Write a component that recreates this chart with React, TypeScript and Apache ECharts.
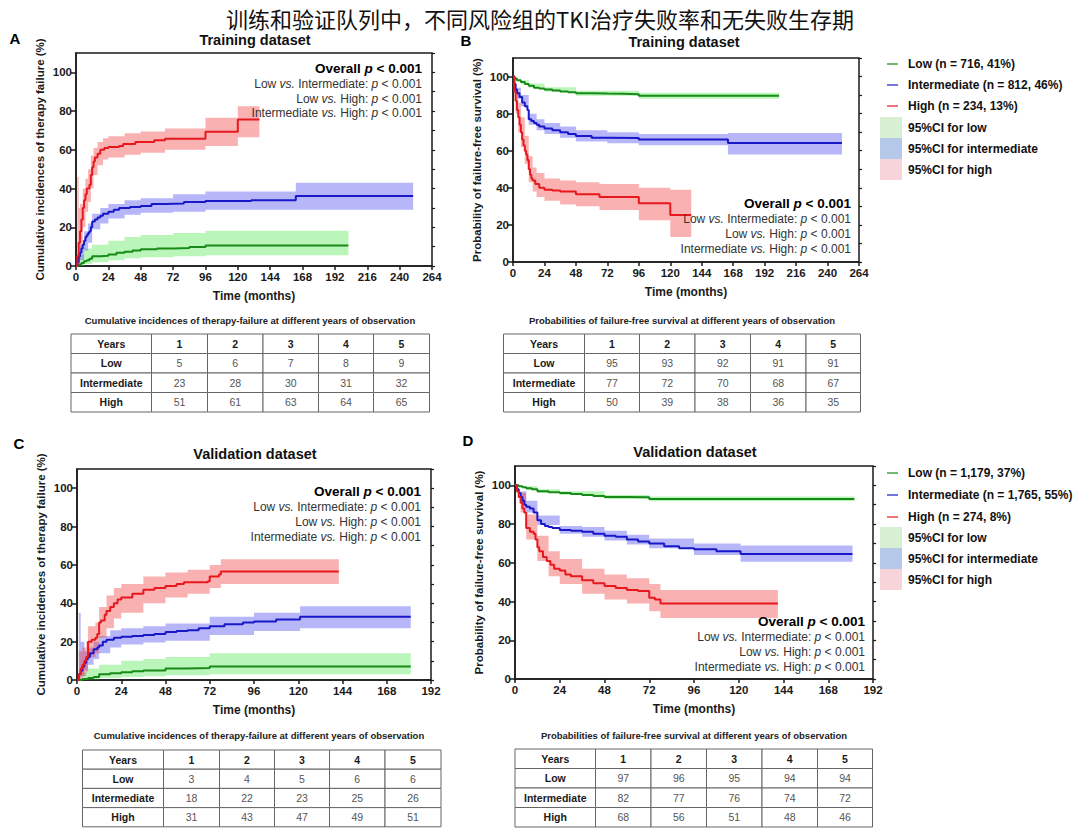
import React, { useEffect, useRef } from 'react';
import * as echarts from 'echarts';

const FONT = 'Arial, "Liberation Sans", Helvetica, sans-serif';
const MAIN_TITLE = '训练和验证队列中，不同风险组的TKI治疗失败率和无失败生存期';

// ---------- axis ticks ----------
const X_MAX_TRAIN = 264;
const X_MAX_VALID = 192;
const X_STEP = 24;
const Y_MAX = 110;
const Y_STEP = 20;
const Y_MINOR = 10;

// ---------- groups / table headers ----------
const GROUPS = ['Low', 'Intermediate', 'High'];
const YEARS = ['1', '2', '3', '4', '5'];

// ---------- tables ----------
const TAB_A_LOW = [5, 6, 7, 8, 9];
const TAB_A_INT = [23, 28, 30, 31, 32];
const TAB_A_HIGH = [51, 61, 63, 64, 65];
const TAB_B_LOW = [95, 93, 92, 91, 91];
const TAB_B_INT = [77, 72, 70, 68, 67];
const TAB_B_HIGH = [50, 39, 38, 36, 35];
const TAB_C_LOW = [3, 4, 5, 6, 6];
const TAB_C_INT = [18, 22, 23, 25, 26];
const TAB_C_HIGH = [31, 43, 47, 49, 51];
const TAB_D_LOW = [97, 96, 95, 94, 94];
const TAB_D_INT = [82, 77, 76, 74, 72];
const TAB_D_HIGH = [68, 56, 51, 48, 46];

// ---------- legends ----------
const LEGEND_B = ['Low (n = 716, 41%)', 'Intermediate (n = 812, 46%)', 'High (n = 234, 13%)'];
const LEGEND_D = ['Low (n = 1,179, 37%)', 'Intermediate (n = 1,765, 55%)', 'High (n = 274, 8%)'];
const LEGEND_CI = ['95%CI for low', '95%CI for intermediate', '95%CI for high'];

// ---------- curves: [months, %] ----------
const A_HIGH = [[0,0],[1,5],[2,12],[3,18],[4,24],[5,30],[6,34],[7,37],[8,40],[10,42],[11,47],[12,51],[13,54],[14,56],[16,58],[18,60],[21,61],[24,61.5],[32,62],[35,63],[44,64],[58,65],[66,65.7],[96,69.3],[120,75.7],[136,75.7]];
const A_INT = [[0,0],[1,2],[2,5],[3,7],[4,9],[5,11],[6,13],[7,15],[8,16],[9,17],[10,18],[11,20],[12,23],[14,24],[16,25],[18,26],[20,27],[24,28],[28,29],[32,30],[40,30.5],[48,31],[56,32],[66,32.3],[80,33],[96,33.6],[130,34],[163,36.2],[250,36.2]];
const A_LOW = [[0,0],[2,0.8],[4,1.5],[6,2.5],[8,3],[10,3.8],[12,5],[18,5.3],[24,6],[30,6.8],[36,7.3],[42,8],[48,8.6],[60,9],[72,9.3],[84,9.8],[96,10.6],[202,10.6]];
const B_LOW = [[0,100],[1,99],[3,98],[6,97],[9,96],[12,95],[16,94],[20,93.5],[24,93],[30,92.5],[36,92],[42,91.5],[48,91],[60,90.8],[72,90.7],[84,90.5],[96,89.6],[203,89.6]];
const B_INT = [[0,100],[1,96],[2,93],[3,91],[5,89],[7,86],[9,84],[11,82],[12,77],[14,76],[16,75],[18,74],[20,73],[24,72],[30,71],[36,70],[42,69],[48,68],[60,67],[72,66.8],[96,66],[164,64.2],[251,64.2]];
const B_HIGH = [[0,100],[1,92],[2,87],[3,82],[4,78],[5,74],[6,70],[7,66],[8,63],[9,60],[10,58],[11,55],[12,50],[13,47],[14,45],[15,44],[17,42],[20,40],[24,39],[30,38.5],[36,38],[48,36.5],[66,35],[96,31.7],[120,25.4],[136,25.4]];
const C_HIGH = [[0,0],[1,3],[2,6],[3,8],[4,10],[5,12],[6,20],[8,21],[10,22],[11,24],[12,30],[13,31],[15,34],[16,36],[18,38],[20,40],[22,42],[24,43],[30,45],[36,47],[42,48],[48,49],[54,50],[58,51],[71,51.5],[72,54],[77,55],[78,56.5],[142,56.5]];
const C_INT = [[0,0],[1,3],[2,5],[3,7],[4,9],[5,11],[6,12],[7,14],[9,16],[11,17],[12,18],[14,20],[16,21],[20,22],[24,22.5],[30,23],[36,23.5],[42,24],[48,25],[54,25.5],[60,26],[66,27],[72,28],[80,29],[90,30],[96,30.5],[108,31.5],[121,33],[181,33]];
const C_LOW = [[0,0],[3,0.5],[6,1],[9,1.5],[12,3],[18,3.5],[24,4],[30,4.5],[36,5],[48,6],[60,6.3],[72,7],[181,7]];
const D_LOW = [[0,100],[2,99.5],[4,99],[6,98.5],[9,98],[12,97],[18,96.5],[24,96],[30,95.5],[36,95],[42,94.5],[48,94],[60,93.8],[72,93],[182,93]];
const D_INT = [[0,100],[1,98],[2,96],[3,94],[4,92],[5,90],[6,89],[8,88],[10,86],[12,82],[14,80],[16,79],[18,78.5],[20,78],[24,77],[30,76.5],[36,76],[42,75],[48,74],[54,73.5],[60,72],[66,71],[72,70],[80,68.5],[88,67.5],[96,67],[108,66],[121,64.6],[181,64.6]];
const D_HIGH = [[0,100],[1,97],[2,94],[3,91],[4,88],[5,86],[6,78],[8,76],[10,75],[11,72],[12,68],[13,66],[15,63],[17,61],[19,59],[21,57],[24,56],[27,54],[30,53],[36,51],[42,49.5],[48,48],[54,47],[60,46],[66,45.5],[72,42],[75,41],[78,39],[141,39]];

// ---------- 95% CI bands: [months, lower, upper] ----------
const A_HIGH_CI = [[0,0,0],[1,0,46],[2,3,30],[3,8,32],[5,20,40],[7,28,45],[9,33,50],[11,40,57],[13,47,61],[16,52,64],[20,55,66],[24,56,67],[36,57.5,68.5],[48,58.5,69.5],[66,60,71],[96,62,76.5],[120,66.5,82.5],[136,66.5,82.5]];
const A_INT_CI = [[0,0,0],[1,0,6],[3,3,11],[6,8,18],[9,12,22],[12,19,27],[18,22,30],[24,24.5,32],[36,26.5,34],[48,27.5,35],[72,28,37],[96,29,38.5],[163,29,43],[250,29,43]];
const A_LOW_CI = [[0,0,0],[3,0,6],[6,1,9],[12,2,11],[24,3,13],[36,4,15],[48,4.5,16],[72,5,17],[96,5.5,18.2],[202,5.5,18.2]];
const B_LOW_CI = [[0,100,100],[6,96,98],[12,94,96.2],[24,91.8,94.2],[48,89.6,92.4],[96,88,91.2],[203,88,91.2]];
const B_INT_CI = [[0,100,100],[3,88,94],[6,84,90],[12,74,80],[18,71,77],[24,69,75],[36,67,73],[48,65,71],[72,64,70],[96,63,69],[164,58,69.5],[251,58,69.5]];
const B_HIGH_CI = [[0,100,100],[2,80,93],[4,70,86],[6,62,78],[9,53,68],[12,43,57],[15,38,51],[18,35,48],[24,33,45],[36,31,44],[48,30,43],[66,28,42],[96,22.5,40],[120,13.5,39],[136,13.5,39]];
const C_HIGH_CI = [[0,0,0],[1,0,15],[3,2,17],[5,4,20],[6,12,28],[10,14,30],[12,22,38],[16,27,44],[20,32,48],[24,35,50],[36,40,54],[48,43,56],[60,45,57.5],[72,48,60],[78,50,63],[142,49.5,63]];
const C_INT_CI = [[0,0,0],[1,0,35],[2,2,20],[4,5,15],[6,8,17],[9,11,20],[12,14,23],[18,17,26],[24,18.5,27],[36,19.5,28],[48,20.5,29.5],[72,23.5,33],[96,25.5,35],[121,27,38.5],[181,27,38.5]];
const C_LOW_CI = [[0,0,0],[3,0,4],[6,0.3,6],[12,1,8],[24,1.5,10],[36,2,11],[48,2.5,12],[72,3,14],[181,3,14]];
const D_LOW_CI = [[0,100,100],[6,97.5,99.5],[12,96,98],[24,95,97],[48,93,95],[72,91.8,94.3],[182,91.5,94.5]];
const D_INT_CI = [[0,100,100],[3,91,97],[6,86,92],[12,79.5,84.5],[24,75,79],[36,73.5,78.5],[48,71.5,76.5],[60,69.5,74.5],[72,67.5,72.5],[96,64,70],[121,60.5,69],[181,60.5,69]];
const D_HIGH_CI = [[0,100,100],[3,86,96],[6,72,85],[12,61,74],[18,53,66],[24,49,62],[36,44,57],[48,41,54],[60,39,52],[72,35,49],[78,31.5,46],[141,31.5,46]];

// ---------- styles ----------
const LINE_COLORS = ['#178a17', '#1818c8', '#e8191e'];
const BAND_COLORS = ['rgba(90,230,90,0.42)', 'rgba(80,80,240,0.42)', 'rgba(240,60,60,0.40)'];
const LEGEND_BAND_COLORS = ['#d9efd4', '#b5c8ea', '#f7d4d9'];

const Y_NAME_CI = 'Cumulative incidences of therapy failure (%)';
const Y_NAME_S = 'Probability of failure-free survival (%)';
const TABLE_TITLE_CI = 'Cumulative incidences of therapy-failure at different years of observation';
const TABLE_TITLE_S = 'Probabilities of failure-free survival at different years of observation';
const COMPARISONS = [['Low', 'Intermediate'], ['Low', 'High'], ['Intermediate', 'High']];

const panels = [
  { letter: 'A', lx: 15, ly: 38, grid: { left: 76, top: 53, width: 356, height: 213 }, xMax: X_MAX_TRAIN,
    title: 'Training dataset', tx: 255, ty: 40, yName: Y_NAME_CI,
    lines: [A_LOW, A_INT, A_HIGH], bands: [A_LOW_CI, A_INT_CI, A_HIGH_CI],
    ann: { x: 422, y: [68, 84, 99, 113] },
    table: { cols: [71, 151.5, 207.5, 263, 318.5, 373.5, 429.5], top: 334, rowH: 19.5, title: TABLE_TITLE_CI, tx: 250, ty: 320, rows: [TAB_A_LOW, TAB_A_INT, TAB_A_HIGH] } },
  { letter: 'B', lx: 466, ly: 40, grid: { left: 513, top: 58, width: 346, height: 204 }, xMax: X_MAX_TRAIN,
    title: 'Training dataset', tx: 684, ty: 42, yName: Y_NAME_S,
    lines: [B_LOW, B_INT, B_HIGH], bands: [B_LOW_CI, B_INT_CI, B_HIGH_CI],
    ann: { x: 851, y: [203, 219, 234, 249] },
    legend: { labels: LEGEND_B, rows: [64, 85, 106, 127.5, 148.5, 169.5] },
    table: { cols: [503.5, 584.5, 639.5, 695, 750.5, 806, 860.5], top: 334, rowH: 19.5, title: TABLE_TITLE_S, tx: 682, ty: 320, rows: [TAB_B_LOW, TAB_B_INT, TAB_B_HIGH] } },
  { letter: 'C', lx: 19, ly: 443, grid: { left: 77, top: 469, width: 354, height: 211 }, xMax: X_MAX_VALID,
    title: 'Validation dataset', tx: 255, ty: 454, yName: Y_NAME_CI,
    lines: [C_LOW, C_INT, C_HIGH], bands: [C_LOW_CI, C_INT_CI, C_HIGH_CI],
    ann: { x: 421, y: [491, 507, 522, 537] },
    table: { cols: [82.5, 163.5, 219.5, 274.5, 329.5, 385, 441], top: 750, rowH: 19.2, title: TABLE_TITLE_CI, tx: 259, ty: 735, rows: [TAB_C_LOW, TAB_C_INT, TAB_C_HIGH] } },
  { letter: 'D', lx: 468, ly: 440, grid: { left: 515, top: 466, width: 358, height: 213 }, xMax: X_MAX_VALID,
    title: 'Validation dataset', tx: 695, ty: 452, yName: Y_NAME_S,
    lines: [D_LOW, D_INT, D_HIGH], bands: [D_LOW_CI, D_INT_CI, D_HIGH_CI],
    ann: { x: 865, y: [621, 637, 652, 667] },
    legend: { labels: LEGEND_D, rows: [473, 495, 517, 537.5, 558.5, 579.5] },
    table: { cols: [515, 595.5, 651, 706.5, 762, 817.5, 872.5], top: 749, rowH: 19.5, title: TABLE_TITLE_S, tx: 694, ty: 735, rows: [TAB_D_LOW, TAB_D_INT, TAB_D_HIGH] } },
];

function textEl(x: number, y: number, text: string, opts: any = {}) {
  const align = opts.align || 'center';
  const vAlign = opts.vAlign || 'middle';
  const style: any = {
    x, y, text,
    fill: opts.fill || '#111',
    fontSize: opts.fontSize || 12,
    fontWeight: opts.fontWeight || 'normal',
    fontStyle: opts.fontStyle || 'normal',
    fontFamily: opts.fontFamily || FONT,
    align, textAlign: align,
    verticalAlign: vAlign, textVerticalAlign: vAlign,
  };
  if (opts.rich) style.rich = opts.rich;
  if (opts.lineHeight) style.lineHeight = opts.lineHeight;
  return { type: 'text', silent: true, z: 50, style };
}

function bandRenderer(band: number[][], color: string) {
  return (params: any, api: any) => {
    if (params.dataIndex !== 0) return { type: 'group', children: [] };
    const up: number[][] = [];
    const lo: number[][] = [];
    for (let i = 0; i < band.length; i++) {
      const [t, l, h] = band[i];
      const tn = i < band.length - 1 ? band[i + 1][0] : t;
      up.push(api.coord([t, h]), api.coord([tn, h]));
      lo.push(api.coord([t, l]), api.coord([tn, l]));
    }
    return {
      type: 'polygon', silent: true,
      shape: { points: up.concat(lo.reverse()) },
      style: { fill: color, stroke: 'none' },
    };
  };
}

function buildOption() {
  const grid: any[] = [];
  const xAxis: any[] = [];
  const yAxis: any[] = [];
  const series: any[] = [];
  const graphic: any[] = [];

  graphic.push(textEl(540, 17.5, MAIN_TITLE, { fontSize: 22, fontFamily: '"Noto Sans CJK SC", sans-serif', fill: '#111' }));

  const axisLine = { show: true, lineStyle: { color: '#1a1a1a', width: 1.5 } };
  const labelStyle = { fontFamily: FONT, fontWeight: 'bold', fontSize: 11.5, color: '#1a1a1a' };
  const nameStyle = { fontFamily: FONT, fontWeight: 'bold', fontSize: 12, color: '#1a1a1a' };

  panels.forEach((p: any, g) => {
    grid.push({ ...p.grid, show: true, borderColor: '#1a1a1a', borderWidth: 1.5, backgroundColor: 'transparent' });
    xAxis.push({
      gridIndex: g, type: 'value', min: 0, max: p.xMax, interval: X_STEP,
      axisLine, axisTick: { show: true, length: 4, lineStyle: { color: '#1a1a1a', width: 1.5 } },
      axisLabel: { ...labelStyle, margin: 5 }, splitLine: { show: false },
      name: 'Time (months)', nameLocation: 'middle', nameGap: 24, nameTextStyle: nameStyle,
    });
    yAxis.push({
      gridIndex: g, type: 'value', min: 0, max: Y_MAX, interval: Y_STEP,
      axisLine, axisTick: { show: true, length: 5, lineStyle: { color: '#1a1a1a', width: 1.5 } },
      axisLabel: { ...labelStyle, margin: 4, showMaxLabel: false }, splitLine: { show: false },
      name: p.yName, nameLocation: 'middle', nameGap: 30,
      nameTextStyle: { ...nameStyle, fontSize: 11.5 },
    });
    yAxis.push({
      gridIndex: g, type: 'value', min: 0, max: Y_MAX, interval: Y_MINOR,
      axisLine: { show: false }, axisTick: { show: true, length: 3, lineStyle: { color: '#1a1a1a', width: 1.2 } },
      axisLabel: { show: false }, splitLine: { show: false },
    });

    p.bands.forEach((band: number[][], k: number) => {
      series.push({
        type: 'custom', xAxisIndex: g, yAxisIndex: 2 * g, z: 1,
        data: band, encode: { x: 0, y: [1, 2] },
        renderItem: bandRenderer(band, BAND_COLORS[k]), silent: true,
      });
    });
    p.lines.forEach((line: number[][], k: number) => {
      series.push({
        type: 'line', name: GROUPS[k], xAxisIndex: g, yAxisIndex: 2 * g, z: 3,
        data: line, step: 'end', showSymbol: false, symbol: 'none',
        lineStyle: { color: LINE_COLORS[k], width: 2 }, silent: true,
      });
    });

    // panel letter and title
    graphic.push(textEl(p.lx, p.ly, p.letter, { fontSize: 15, lineHeight: 15, fontWeight: 'bold', fill: '#000' }));
    graphic.push(textEl(p.tx, p.ty, p.title, { fontSize: 14.5, fontWeight: 'bold', fill: '#111' }));

    // annotations
    const richN = {
      b: { fontFamily: FONT, fontWeight: 'bold', fontSize: 13.5, fill: '#000' },
      bi: { fontFamily: FONT, fontWeight: 'bold', fontStyle: 'italic', fontSize: 13.5, fill: '#000' },
      n: { fontFamily: FONT, fontSize: 12, fill: '#333' },
      i: { fontFamily: FONT, fontStyle: 'italic', fontSize: 12, fill: '#333' },
    };
    graphic.push(textEl(p.ann.x, p.ann.y[0], '{b|Overall }{bi|p}{b| < 0.001}', { align: 'right', rich: richN }));
    COMPARISONS.forEach((c, k) => {
      graphic.push(textEl(p.ann.x, p.ann.y[k + 1], `{n|${c[0]} }{i|vs.}{n| ${c[1]}: }{i|p}{n| < 0.001}`, { align: 'right', rich: richN }));
    });

    // legend
    if (p.legend) {
      const rows = p.legend.rows;
      for (let k = 0; k < 3; k++) {
        graphic.push({ type: 'line', silent: true, z: 50, shape: { x1: 887, y1: rows[k], x2: 898, y2: rows[k] }, style: { stroke: LINE_COLORS[k], lineWidth: 1.2 } });
        graphic.push(textEl(908, rows[k], p.legend.labels[k], { align: 'left', fontSize: 12, fontWeight: 'bold', fill: '#111' }));
      }
      for (let k = 0; k < 3; k++) {
        const cy = rows[k + 3];
        graphic.push({ type: 'rect', silent: true, z: 49, shape: { x: 880, y: cy - 10.5, width: 22, height: 21 }, style: { fill: LEGEND_BAND_COLORS[k] } });
        graphic.push(textEl(908, cy, LEGEND_CI[k], { align: 'left', fontSize: 12, fontWeight: 'bold', fill: '#111' }));
      }
    }

    // table
    const t = p.table;
    graphic.push(textEl(t.tx, t.ty, t.title, { fontSize: 9.5, fontWeight: 'bold', fill: '#222' }));
    const header = ['Years', ...YEARS];
    const body = t.rows.map((r: number[], k: number) => [GROUPS[k], ...r.map(String)]);
    const all = [header, ...body];
    all.forEach((row: string[], ri: number) => {
      row.forEach((cell: string, ci: number) => {
        const x0 = t.cols[ci];
        const x1 = t.cols[ci + 1];
        const y0 = t.top + ri * t.rowH;
        graphic.push({ type: 'rect', silent: true, z: 40, shape: { x: x0, y: y0, width: x1 - x0, height: t.rowH }, style: { fill: '#fff', stroke: '#666', lineWidth: 1 } });
        const bold = ri === 0 || ci === 0;
        graphic.push(textEl((x0 + x1) / 2, y0 + t.rowH / 2, cell, { fontSize: 10.5, fontWeight: bold ? 'bold' : 'normal', fill: bold ? '#1a1a1a' : '#555' }));
      });
    });
  });

  return { animation: false, backgroundColor: '#fff', grid, xAxis, yAxis, series, graphic };
}

export default function App() {
  const ref = useRef<HTMLDivElement>(null);
  useEffect(() => {
    const chart = echarts.init(ref.current as HTMLDivElement, null, { renderer: 'svg' });
    chart.setOption(buildOption() as any);
    return () => chart.dispose();
  }, []);
  return <div ref={ref} style={{ position: 'absolute', left: 0, top: 0, width: 1080, height: 833, background: '#fff' }} />;
}
